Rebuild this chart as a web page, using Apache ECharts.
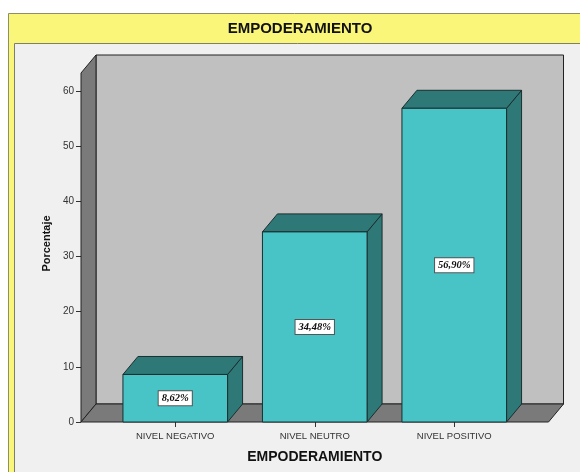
<!DOCTYPE html>
<html>
<head>
<meta charset="utf-8">
<script src="https://cdn.jsdelivr.net/npm/echarts@6/dist/echarts.min.js"></script>
<style>
  html, body { margin: 0; padding: 0; background: #ffffff; }
  #chart { width: 580px; height: 472px; }
</style>
</head>
<body>
<div id="chart"></div>
<script>
// Categories and percentages of the EMPODERAMIENTO variable
const categories = ['NIVEL NEGATIVO', 'NIVEL NEUTRO', 'NIVEL POSITIVO'];
const percentages = [8.62, 34.48, 56.90];
const yTickValues = [0, 10, 20, 30, 40, 50, 60];
const yAxisMax = 63.3;

// Depth of the 3D extrusion and overhang of the floor past the outer bands
const DX = 15, DY = -18;
const FLOOR_PAD = 24.5;

const EDGE = '#1c2e2e';

function formatPct(v) {
  return v.toFixed(2).replace('.', ',') + '%';
}

// Back wall, left wall and floor of the 3D box
function renderWalls(params, api) {
  const cs = params.coordSys;
  const x0 = cs.x - FLOOR_PAD;
  const x1 = cs.x + cs.width + FLOOR_PAD;
  const yT = cs.y;
  const yB = cs.y + cs.height;
  const line = { stroke: '#222', lineWidth: 1 };
  return {
    type: 'group',
    children: [
      { type: 'rect', shape: { x: x0 + DX, y: yT + DY, width: x1 - x0, height: yB - yT },
        style: Object.assign({ fill: '#C0C0C0' }, line) },
      { type: 'polygon', shape: { points: [[x0, yT], [x0 + DX, yT + DY], [x0 + DX, yB + DY], [x0, yB]] },
        style: Object.assign({ fill: '#7A7A7A' }, line) },
      { type: 'polygon', shape: { points: [[x0, yB], [x1, yB], [x1 + DX, yB + DY], [x0 + DX, yB + DY]] },
        style: Object.assign({ fill: '#7A7A7A' }, line) }
    ]
  };
}

// Extruded bar with its value label on the front face
function renderBar(params, api) {
  const idx = api.value(0);
  const v = api.value(1);
  const top = api.coord([idx, v]);
  const base = api.coord([idx, 0]);
  const w = api.size([1, 0])[0] * 0.75;
  const xl = top[0] - w / 2, xr = top[0] + w / 2;
  const yt = top[1], yb = base[1];
  const edge = { stroke: EDGE, lineWidth: 1 };
  return {
    type: 'group',
    children: [
      { type: 'polygon', shape: { points: [[xr, yb], [xr + DX, yb + DY], [xr + DX, yt + DY], [xr, yt]] },
        style: Object.assign({ fill: '#2E7878' }, edge) },
      { type: 'polygon', shape: { points: [[xl, yt], [xl + DX, yt + DY], [xr + DX, yt + DY], [xr, yt]] },
        style: Object.assign({ fill: '#2E7878' }, edge) },
      { type: 'rect', shape: { x: xl, y: yt, width: w, height: yb - yt },
        style: Object.assign({ fill: '#48C3C6' }, edge) },
      { type: 'text', z2: 10,
        style: {
          text: formatPct(v), x: top[0], y: (yt + yb) / 2,
          align: 'center', verticalAlign: 'middle',
          textAlign: 'center', textVerticalAlign: 'middle',
          font: 'italic bold 10.5px "Liberation Serif", "Times New Roman", serif',
          fill: '#111', backgroundColor: '#ffffff',
          borderColor: '#555', borderWidth: 1, padding: [2, 3, 1, 3]
        } }
    ]
  };
}

const chart = echarts.init(document.getElementById('chart'), null, { renderer: 'canvas' });

chart.setOption({
  animation: false,
  backgroundColor: '#ffffff',
  title: {
    text: 'EMPODERAMIENTO',
    left: 300, top: 21, textAlign: 'center', padding: 0,
    textStyle: { fontFamily: 'Arial, "Liberation Sans", sans-serif', fontSize: 15, fontWeight: 'bold', color: '#111' }
  },
  graphic: [
    { type: 'rect', z: -10, silent: true,
      shape: { x: 8.5, y: 13.5, width: 620, height: 520 },
      style: { fill: '#FAF67A', stroke: '#8F8F66', lineWidth: 1 } },
    { type: 'rect', z: -9, silent: true,
      shape: { x: 14.5, y: 43.5, width: 620, height: 520 },
      style: { fill: '#F0F0F0', stroke: '#7E7E6A', lineWidth: 1 } }
  ],
  grid: { left: 105.5, top: 73, width: 418.5, height: 349, containLabel: false, outerBoundsMode: 'none' },
  xAxis: {
    type: 'category',
    data: categories,
    axisLine: { show: false },
    axisTick: { show: true, alignWithLabel: true, length: 5, lineStyle: { color: '#333' } },
    axisLabel: { fontFamily: 'Arial, "Liberation Sans", sans-serif', fontSize: 9.5, color: '#333', margin: 9 },
    splitLine: { show: false },
    name: 'EMPODERAMIENTO',
    nameLocation: 'middle',
    nameGap: 28,
    nameTextStyle: { fontFamily: 'Arial, "Liberation Sans", sans-serif', fontSize: 14, fontWeight: 'bold', color: '#111' }
  },
  yAxis: {
    type: 'value',
    min: 0, max: yAxisMax, interval: 10,
    offset: FLOOR_PAD,
    axisLine: { show: false },
    axisTick: { show: true, length: 5, customValues: yTickValues, lineStyle: { color: '#333' } },
    axisLabel: { fontFamily: 'Arial, "Liberation Sans", sans-serif', fontSize: 10, color: '#333', margin: 7,
                 customValues: yTickValues },
    splitLine: { show: false },
    name: 'Porcentaje',
    nameLocation: 'middle',
    nameRotate: 90,
    nameGap: 29,
    nameTextStyle: { fontFamily: 'Arial, "Liberation Sans", sans-serif', fontSize: 11, fontWeight: 'bold', color: '#111',
                     padding: [0, 0, 0, 8] }
  },
  series: [
    { type: 'custom', name: 'walls', z: 1, silent: true,
      renderItem: renderWalls, data: [[0, 0]], encode: { x: 0, y: 1 } },
    { type: 'custom', name: 'Porcentaje', z: 3,
      renderItem: renderBar,
      data: percentages.map((v, i) => [i, v]),
      encode: { x: 0, y: 1 } }
  ]
});
</script>
</body>
</html>
